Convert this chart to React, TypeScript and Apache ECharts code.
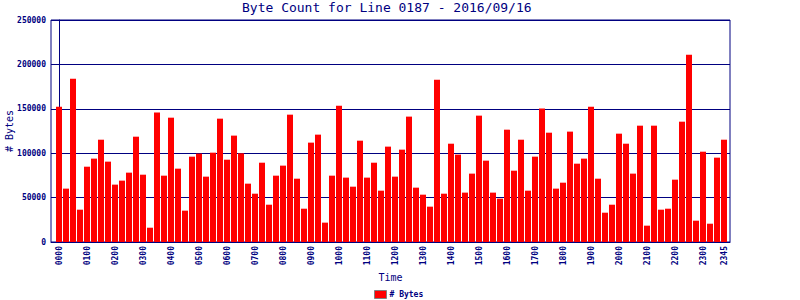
import React, { useEffect, useRef } from "react";
import * as echarts from "echarts";

const TITLE = "Byte Count for Line 0187 - 2016/09/16";
const SERIES_NAME = "# Bytes";
const X_NAME = "Time";
const Y_NAME = "# Bytes";

const times = [
  "0000", "0015", "0030", "0045", "0100", "0115", "0130", "0145",
  "0200", "0215", "0230", "0245", "0300", "0315", "0330", "0345",
  "0400", "0415", "0430", "0445", "0500", "0515", "0530", "0545",
  "0600", "0615", "0630", "0645", "0700", "0715", "0730", "0745",
  "0800", "0815", "0830", "0845", "0900", "0915", "0930", "0945",
  "1000", "1015", "1030", "1045", "1100", "1115", "1130", "1145",
  "1200", "1215", "1230", "1245", "1300", "1315", "1330", "1345",
  "1400", "1415", "1430", "1445", "1500", "1515", "1530", "1545",
  "1600", "1615", "1630", "1645", "1700", "1715", "1730", "1745",
  "1800", "1815", "1830", "1845", "1900", "1915", "1930", "1945",
  "2000", "2015", "2030", "2045", "2100", "2115", "2130", "2145",
  "2200", "2215", "2230", "2245", "2300", "2315", "2330", "2345",
];

const bytes = [
  152400, 60100, 183900, 36400, 84800, 93900, 115200, 90500,
  64600, 69100, 78100, 118600, 75800, 16100, 145700, 74700,
  140000, 82600, 35300, 96100, 99500, 73600, 100600, 138900,
  92700, 119800, 99900, 65700, 54400, 89300, 42000, 74700,
  86000, 143400, 71300, 37500, 111900, 120900, 21800, 74700,
  153500, 72500, 62300, 114100, 72500, 89300, 57800, 107400,
  73600, 104000, 141200, 61200, 53300, 39800, 182800, 54400,
  110700, 98400, 55600, 77000, 142300, 91600, 55600, 48800,
  126500, 80300, 115200, 57800, 96100, 150200, 123100, 60100,
  66800, 124300, 88200, 93900, 152400, 71300, 33000, 42000,
  122000, 110700, 77000, 131000, 18400, 131000, 36400, 37500,
  70200, 135500, 211000, 24000, 101700, 20600, 95000, 115200,
];

// indices of the time labels shown on the x axis
const labelIndices = [
  0, 4, 8, 12, 16, 20, 24, 28, 32, 36, 40, 44,
  48, 52, 56, 60, 64, 68, 72, 76, 80, 84, 88, 92, 95,
];

const Y_MAX = 250000;
const Y_STEP = 50000;

const NAVY = "#000080";
const RED = "#ff0000";
const MONO = "'DejaVu Sans Mono', 'Liberation Mono', monospace";

export default function App() {
  const ref = useRef<HTMLDivElement>(null);

  useEffect(() => {
    document.body.style.margin = "0";
    const chart = echarts.init(ref.current!, null, { renderer: "svg" });
    chart.setOption({
      animation: false,
      backgroundColor: "#ffffff",
      title: {
        text: TITLE,
        left: 242,
        top: 1,
        padding: 0,
        textStyle: {
          color: NAVY,
          fontFamily: MONO,
          fontSize: 13,
          fontWeight: "normal",
        },
      },
      legend: {
        data: [SERIES_NAME],
        left: 374,
        top: 290,
        padding: 0,
        icon: "rect",
        itemWidth: 12,
        itemHeight: 8,
        itemStyle: { borderColor: "#808080", borderWidth: 1 },
        textStyle: {
          color: NAVY,
          fontFamily: MONO,
          fontSize: 8,
          fontWeight: "bold",
          padding: [0, 0, 0, -2],
        },
      },
      grid: {
        left: 51,
        right: 70,
        top: 20,
        bottom: 58,
        show: true,
        borderColor: NAVY,
        borderWidth: 1,
        containLabel: false,
        outerBoundsMode: "none",
      },
      xAxis: {
        type: "value",
        min: -8 / 7,
        max: 95 + 6 / 7,
        name: X_NAME,
        nameLocation: "middle",
        nameGap: 30,
        nameMoveOverlap: false,
        nameTextStyle: { color: NAVY, fontFamily: MONO, fontSize: 10 },
        axisLine: { show: true, lineStyle: { color: NAVY, width: 1 } },
        axisTick: { show: false },
        splitLine: { show: false },
        axisLabel: {
          customValues: labelIndices,
          formatter: (v: number) => times[Math.round(v)],
          rotate: 90,
          margin: 4,
          color: NAVY,
          fontFamily: MONO,
          fontSize: 8,
          fontWeight: "bold",
        },
      },
      yAxis: {
        type: "value",
        min: 0,
        max: Y_MAX,
        interval: Y_STEP,
        name: Y_NAME,
        nameLocation: "middle",
        nameGap: 37,
        nameRotate: 90,
        nameMoveOverlap: false,
        nameTextStyle: { color: NAVY, fontFamily: MONO, fontSize: 10 },
        axisLine: { show: true, lineStyle: { color: NAVY, width: 1 } },
        axisTick: { show: false },
        splitLine: { show: true, lineStyle: { color: NAVY, width: 1 } },
        axisLabel: {
          margin: 5,
          color: NAVY,
          fontFamily: MONO,
          fontSize: 8,
          fontWeight: "bold",
          formatter: (v: number) => String(v),
        },
      },
      series: [
        {
          name: SERIES_NAME,
          type: "bar",
          barWidth: 6,
          itemStyle: { color: RED },
          data: bytes.map((v, i) => [i, v]),
        },
      ],
    });
    return () => chart.dispose();
  }, []);

  return <div ref={ref} style={{ width: 800, height: 300 }} />;
}
